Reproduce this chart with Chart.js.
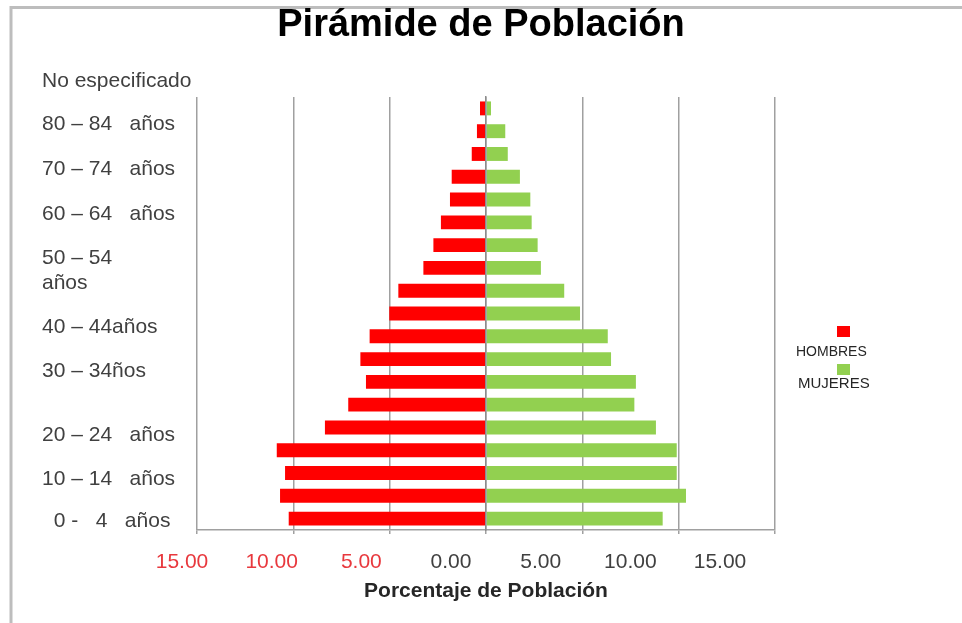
<!DOCTYPE html>
<html>
<head>
<meta charset="utf-8">
<script src="https://cdn.jsdelivr.net/npm/chart.js@4/dist/chart.umd.min.js"></script>
<style>
  html, body { margin: 0; padding: 0; background: #ffffff; overflow: hidden; }
  #wrap { position: relative; width: 962px; height: 623px; }
</style>
</head>
<body>
<div id="wrap"><canvas id="c" width="962" height="623"></canvas></div>
<script>
// ---------- data ----------
const categories = ['0 - 4 años', '5 - 9 años', '10 - 14 años', '15 - 19 años', '20 - 24 años',
  '25 - 29 años', '30 - 34 años', '35 - 39 años', '40 - 44 años', '45 - 49 años', '50 - 54 años',
  '55 - 59 años', '60 - 64 años', '65 - 69 años', '70 - 74 años', '75 - 79 años', '80 - 84 años',
  '85 y más años', 'No especificado'];
const hombres = [10.24, 10.69, 10.43, 10.86, 8.36, 7.15, 6.23, 6.52, 6.04, 5.02, 4.55, 3.25, 2.73, 2.34, 1.87, 1.78, 0.74, 0.47, 0.31];
const mujeres = [9.17, 10.38, 9.90, 9.90, 8.82, 7.70, 7.78, 6.49, 6.32, 4.88, 4.06, 2.85, 2.68, 2.37, 2.30, 1.76, 1.13, 1.00, 0.26];
const ageTickLabels = ['  0 -   4   años', '10 – 14   años', '20 – 24   años', '30 – 34ños', '40 – 44años',
  ['50 – 54', 'años'], '60 – 64   años', '70 – 74   años', '80 – 84   años', 'No especificado'];
const pctTickLabels = ['15.00', '10.00', '5.00', '0.00', '5.00', '10.00', '15.00'];
const seriesNames = ['HOMBRES', 'MUJERES'];

// ---------- layout / style ----------
const FONT = "'Liberation Sans', Arial, sans-serif";
const RED = '#FF0000';
const GREEN = '#92D050';
const GRID = '#a0a0a0';
// where the original's free-floating text boxes sit, in axis units
const ageLabelSlots = [-0.105, 1.738, 3.668, 6.477, 8.407, 10.887, 13.366, 15.34, 17.315, 19.2];
const pctLabelSlots = [-15, -10, -5, 0, 5, 10, 15];

const framePlugin = {
  id: 'frame',
  beforeDraw(chart) {
    const ctx = chart.ctx;
    ctx.save();
    ctx.strokeStyle = '#bdbdbd';
    ctx.lineWidth = 3;
    ctx.beginPath();
    ctx.moveTo(10, 7.5); ctx.lineTo(chart.width, 7.5);
    ctx.moveTo(11, 6); ctx.lineTo(11, chart.height);
    ctx.stroke();
    ctx.restore();
  }
};

const stackedLegend = {
  id: 'stackedLegend',
  afterDraw(chart) {
    const ctx = chart.ctx;
    const ca = chart.chartArea;
    const mid = (ca.top + ca.bottom) / 2;
    ctx.save();
    chart.data.datasets.forEach((ds, i) => {
      const boxTop = mid + 12.5 + 38 * i;
      ctx.fillStyle = ds.backgroundColor;
      ctx.fillRect(ca.right + 62, boxTop, 13, 11);
      ctx.fillStyle = '#262626';
      ctx.font = (14 + i) + 'px ' + FONT;
      ctx.textAlign = 'left';
      ctx.textBaseline = 'middle';
      ctx.fillText(ds.label, ca.right + 21 + 2 * i, boxTop + 26 - 6 * i);
    });
    ctx.restore();
  }
};

const spacer = (pos, weight, size) => ({
  type: 'linear', position: pos, weight: weight, offset: false,
  grid: { display: false, drawTicks: false },
  border: { display: false },
  ticks: { display: false },
  afterFit: s => { s.width = size; }
});

new Chart(document.getElementById('c'), {
  type: 'bar',
  data: {
    labels: categories,
    datasets: [
      { label: seriesNames[0], data: hombres.map(v => -v), backgroundColor: RED,
        xAxisID: 'x', yAxisID: 'y', categoryPercentage: 1, barPercentage: 0.61 },
      { label: seriesNames[1], data: mujeres, backgroundColor: GREEN,
        xAxisID: 'x', yAxisID: 'y', categoryPercentage: 1, barPercentage: 0.61 }
    ]
  },
  options: {
    indexAxis: 'y',
    responsive: false,
    animation: false,
    layout: { padding: { left: 0, right: 0, top: 0, bottom: 19.4 } },
    plugins: {
      legend: { display: false },
      tooltip: { enabled: false },
      title: {
        display: true,
        text: 'Pirámide de Población',
        color: '#000000',
        font: { family: FONT, size: 38, weight: 'bold', lineHeight: 1.2 },
        padding: { top: 2.5, bottom: 48.9 }
      }
    },
    scales: {
      x: {
        axis: 'x', type: 'linear', position: 'bottom', stacked: true, weight: 0,
        min: -15, max: 15,
        ticks: { display: false, stepSize: 5 },
        grid: { display: true, color: GRID, lineWidth: 1.5, tickLength: 4, drawTicks: true },
        border: { display: true, color: GRID, width: 1.5 },
        afterFit: s => { s.height = 4; }
      },
      y: {
        axis: 'y', type: 'category', stacked: true, reverse: true,
        position: { x: 0 },
        grid: { display: false, drawTicks: false },
        ticks: { display: false },
        border: { display: true, color: '#8c8c8c', width: 1.5, z: 1 }
      },
      lpad: Object.assign({ axis: 'y' }, spacer('left', 10, 42)),
      rpad: Object.assign({ axis: 'y' }, spacer('right', 0, 187)),
      yl: {
        axis: 'y', type: 'linear', position: 'left', weight: 0, offset: false,
        min: -0.5, max: 18.5,
        grid: { display: false, drawTicks: false },
        border: { display: false },
        afterBuildTicks: s => { s.ticks = ageLabelSlots.map(v => ({ value: v })); },
        afterFit: s => { s.width = 155; },
        ticks: {
          autoSkip: false, crossAlign: 'far', padding: 0,
          color: '#404040',
          font: { family: FONT, size: 21, lineHeight: 1.2 },
          callback: (v, i) => ageTickLabels[i]
        }
      },
      xl: {
        axis: 'x', type: 'linear', position: 'bottom', weight: 1, offset: false,
        min: -15, max: 17.23,
        grid: { display: false, drawTicks: false },
        border: { display: false },
        afterBuildTicks: s => { s.ticks = pctLabelSlots.map(v => ({ value: v })); },
        afterFit: s => { s.height = 69.6; },
        ticks: {
          autoSkip: false, maxRotation: 0, minRotation: 0, padding: 16, labelOffset: -15,
          font: { family: FONT, size: 21, lineHeight: 1.2 },
          color: ctx => (ctx.tick && ctx.tick.value < 0) ? '#E8383D' : '#404040',
          callback: (v, i) => pctTickLabels[i]
        },
        title: {
          display: true,
          text: 'Porcentaje de Población',
          color: '#262626',
          font: { family: FONT, size: 21, weight: 'bold', lineHeight: 1.2 },
          padding: { top: 3.2, bottom: 0 }
        }
      }
    }
  },
  plugins: [framePlugin, stackedLegend]
});
</script>
</body>
</html>
